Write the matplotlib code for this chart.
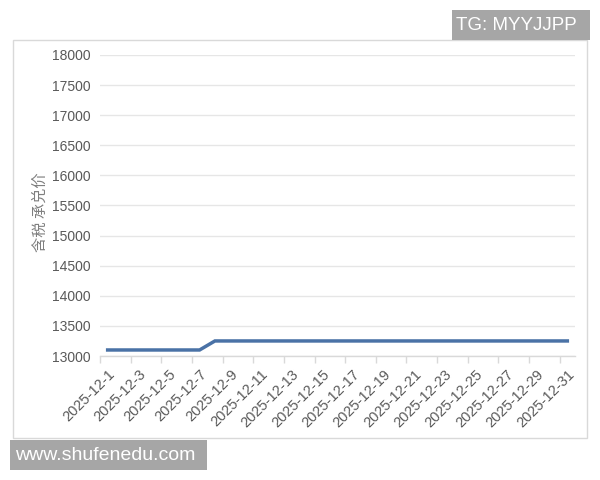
import matplotlib
matplotlib.use("Agg")
import matplotlib.pyplot as plt
from matplotlib.patches import Rectangle

plt.rcParams['font.family'] = ['Liberation Sans', 'DejaVu Sans', 'Noto Sans CJK SC']

days = list(range(1, 32))
dates = [f"2025-12-{d}" for d in days]
prices = [13100] * 7 + [13250] * 24
y_ticks = [13000, 13500, 14000, 14500, 15000, 15500, 16000, 16500, 17000, 17500, 18000]
y_label = "含税 承兑价"

W, H = 600, 480
fig = plt.figure(figsize=(6, 4.8), dpi=100)

def fx(px):
    return px / W

def fy(py):
    return 1 - py / H

# chart border
fig.patches.append(Rectangle((fx(13), fy(438)), fx(587) - fx(13), fy(40) - fy(438),
                             transform=fig.transFigure, fill=False,
                             edgecolor='#d9d9d9', linewidth=1.0, zorder=0))

ax = fig.add_axes([fx(100), fy(356), fx(575) - fx(100), fy(55) - fy(356)])
ax.plot(days, prices, color='#4a72a6', linewidth=2.5, solid_joinstyle='miter', zorder=3)

ax.set_xlim(0.5, 31.5)
ax.set_ylim(13000, 18000)
ax.set_yticks(y_ticks)
ax.yaxis.grid(True, color='#e6e6e6', linewidth=1.0)
ax.set_axisbelow(True)
for s in ['top', 'right', 'left']:
    ax.spines[s].set_visible(False)
ax.spines['bottom'].set_color('#d9d9d9')
ax.spines['bottom'].set_linewidth(1.0)

ax.tick_params(axis='y', length=0, labelsize=10, labelcolor='#595959', pad=7)

label_days = days[::2]
ax.set_xticks(label_days)
ax.set_xticklabels([dates[d - 1] for d in label_days], rotation=45, ha='right',
                   rotation_mode='anchor', fontsize=10.5, color='#595959')
ax.tick_params(axis='x', which='major', length=0, pad=8)
ax.set_xticks([d - 0.5 for d in days[::2]][:16], minor=True)
ax.tick_params(axis='x', which='minor', length=5, color='#d9d9d9', width=1.0)

fig.text(fx(40), fy(212), y_label, rotation=90, ha='center', va='center',
         fontsize=11, color='#7f7f7f', family=['Noto Sans CJK SC', 'DejaVu Sans'])

# watermark boxes
fig.patches.append(Rectangle((fx(452), fy(40)), fx(590) - fx(452), fy(10) - fy(40),
                             transform=fig.transFigure, facecolor='#a6a6a6',
                             edgecolor='none', zorder=5))
fig.text(fx(456), fy(25), "TG: MYYJJPP", ha='left', va='center', fontsize=13.5,
         color='white', zorder=6)
fig.patches.append(Rectangle((fx(10), fy(470)), fx(207) - fx(10), fy(440) - fy(470),
                             transform=fig.transFigure, facecolor='#a6a6a6',
                             edgecolor='none', zorder=5))
fig.text(fx(15), fy(456), "www.shufenedu.com", ha='left', va='center', fontsize=14,
         color='white', zorder=6)

fig.savefig("out.png", dpi=100, facecolor='white')
